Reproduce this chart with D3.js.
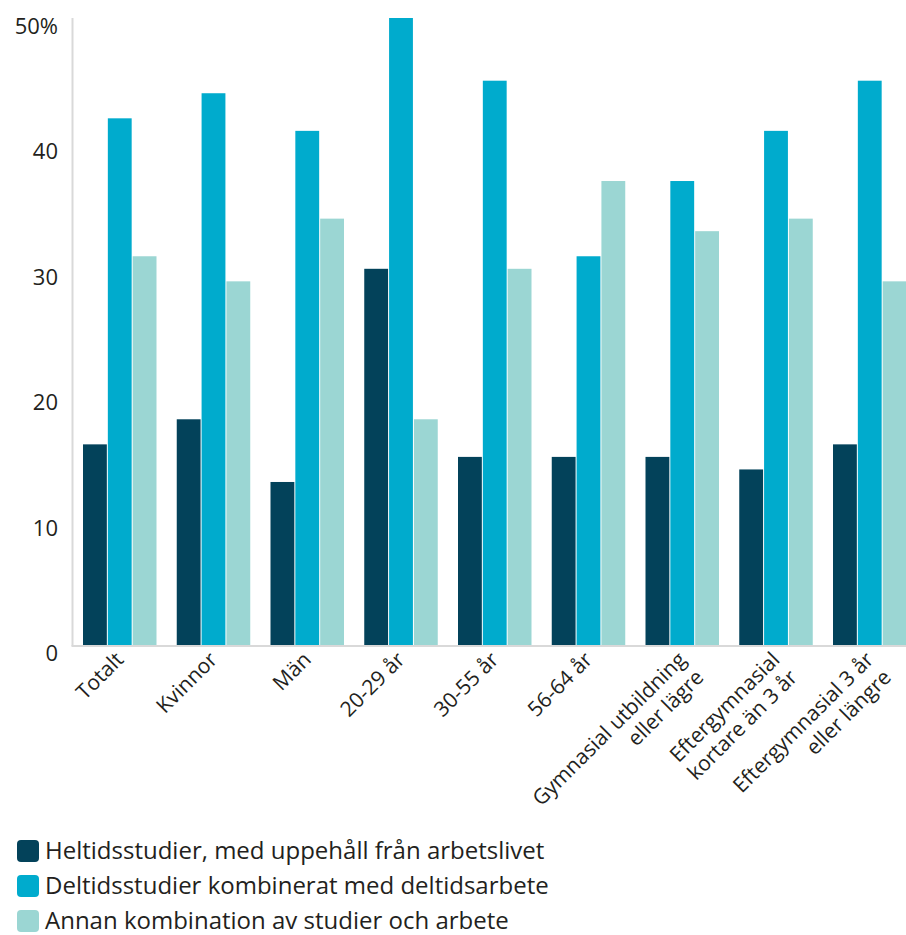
<!DOCTYPE html>
<html><head><meta charset="utf-8">
<script src="https://cdn.jsdelivr.net/npm/d3@7/dist/d3.min.js"></script>
<style>
html,body{margin:0;padding:0;background:#fff;}
svg{display:block;font-family:"Open Sans",Lato,sans-serif;}
</style></head>
<body>
<svg id="chart" width="906" height="935"></svg>
<script>
const categories = [
  ["Totalt"], ["Kvinnor"], ["Män"], ["20-29 år"], ["30-55 år"], ["56-64 år"],
  ["Gymnasial utbildning", "eller lägre"],
  ["Eftergymnasial", "kortare än 3 år"],
  ["Eftergymnasial 3 år", "eller längre"]
];
const seriesNames = [
  "Heltidsstudier, med uppehåll från arbetslivet",
  "Deltidsstudier kombinerat med deltidsarbete",
  "Annan kombination av studier och arbete"
];
const heltid = [16, 18, 13, 30, 15, 15, 15, 14, 16];
const deltid = [42, 44, 41, 50, 45, 31, 37, 41, 45];
const annan  = [31, 29, 34, 18, 30, 37, 33, 34, 29];
const colors = ["#03425a", "#00abcd", "#9bd6d3"];
const yTicks = [0, 10, 20, 30, 40, 50];
const yTickLabels = ["0", "10", "20", "30", "40", "50%"];

const values = [heltid, deltid, annan];
const svg = d3.select("#chart");
const catKeys = categories.map(c => c.join(" "));

const x0 = d3.scaleBand().domain(catKeys).range([72.5, 917]).paddingInner(0.216).paddingOuter(0.112);
const x1 = d3.scaleBand().domain(d3.range(3)).range([0, x0.bandwidth()]).paddingInner(0.04);
const y = d3.scaleLinear().domain([0, 50]).range([645, 18]);

// bars
const groups = svg.append("g").selectAll("g").data(catKeys).join("g")
  .attr("transform", d => `translate(${x0(d)},0)`);
groups.selectAll("rect").data((d, i) => values.map((s, k) => ({k, v: s[i]}))).join("rect")
  .attr("x", d => x1(d.k))
  .attr("width", x1.bandwidth())
  .attr("y", d => y(d.v))
  .attr("height", d => y(0) - y(d.v))
  .attr("fill", d => colors[d.k]);

// axes lines
svg.append("line").attr("x1", 72.5).attr("x2", 72.5).attr("y1", y(50)).attr("y2", y(0) + 1)
  .attr("stroke", "#d9d9d9").attr("stroke-width", 2);
svg.append("line").attr("x1", 71.5).attr("x2", 906).attr("y1", y(0) + 1).attr("y2", y(0) + 1)
  .attr("stroke", "#d9d9d9").attr("stroke-width", 2);

// y tick labels
svg.append("g").selectAll("text").data(yTicks).join("text")
  .attr("x", 58).attr("y", d => y(d) + 16)
  .attr("text-anchor", "end")
  .attr("font-size", 22).attr("fill", "#231f20")
  .text((d, i) => yTickLabels[i]);

// x labels
const xl = svg.append("g").selectAll("g").data(categories).join("g")
  .attr("transform", d => `translate(${x0(d.join(" ")) + x0.bandwidth() / 2 + 5},661) rotate(-45)`);
xl.each(function(lines) {
  const g = d3.select(this);
  lines.forEach((t, j) => {
    g.append("text").attr("x", 0).attr("y", j * 25)
      .attr("text-anchor", "end").attr("font-size", 21).attr("fill", "#231f20")
      .text(t);
  });
});

// legend
const lg = svg.append("g").selectAll("g").data(seriesNames).join("g")
  .attr("transform", (d, i) => `translate(17,${851 + i * 35})`);
lg.append("rect").attr("x", 0).attr("y", -11).attr("width", 22).attr("height", 22)
  .attr("rx", 4).attr("fill", (d, i) => colors[i]);
lg.append("text").attr("x", 28).attr("y", 8).attr("font-size", 24).attr("fill", "#231f20")
  .text(d => d);
</script>
</body></html>
